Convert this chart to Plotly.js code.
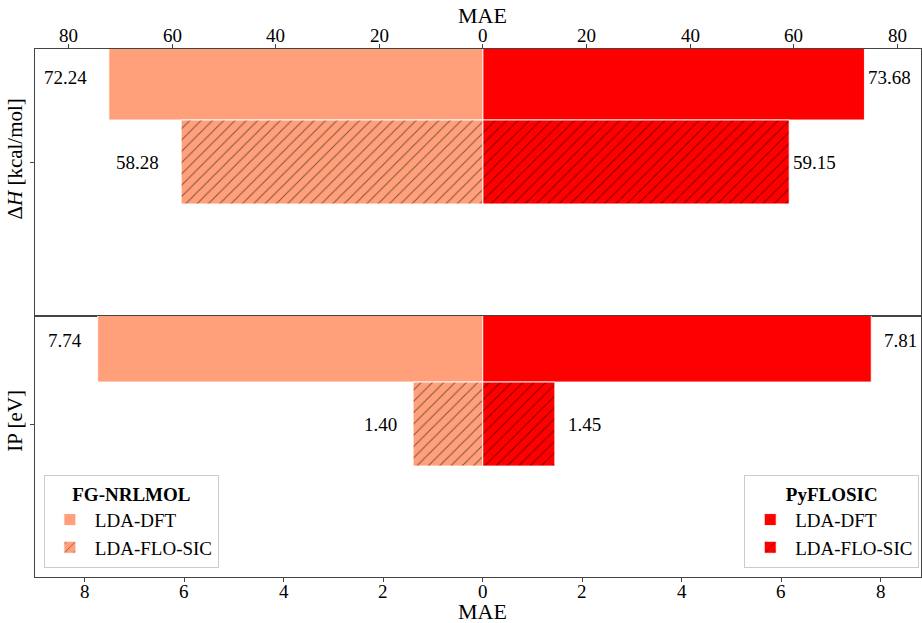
<!DOCTYPE html>
<html>
<head>
<meta charset="utf-8">
<script src="https://cdn.plot.ly/plotly-3.0.1.min.js"></script>
<style>html,body{margin:0;padding:0;background:#fff;}#chart{width:922px;height:623px;}</style>
</head>
<body>
<div id="chart"></div>
<script>
// ---- data ----
const quantities = ['ΔH', 'IP'];
const yTickLabels = ['Δ<i>H</i> [kcal/mol]', 'IP [eV]'];
const fgDFT = [72.24, 7.74];   // FG-NRLMOL LDA-DFT
const fgFLO = [58.28, 1.40];   // FG-NRLMOL LDA-FLO-SIC
const pyDFT = [73.68, 7.81];   // PyFLOSIC LDA-DFT
const pyFLO = [59.15, 1.45];   // PyFLOSIC LDA-FLO-SIC
const xTicksTop = [-80, -60, -40, -20, 0, 20, 40, 60, 80];
const xTicksBottom = [-8, -6, -4, -2, 0, 2, 4, 6, 8];
const methods = ['LDA-DFT', 'LDA-FLO-SIC'];
const codes = ['FG-NRLMOL', 'PyFLOSIC'];
const xTitle = 'MAE';

const colFG = '#FFA07A';
const colPy = '#FF0000';
const font = 'Liberation Serif, Times New Roman, serif';

const axes = [{x: 'x', y: 'y'}, {x: 'x2', y: 'y2'}];
const traces = [];
const annotations = [];
const labelShift = [[-20, 2], [-14, 11]];  // px gap [left, right] for each panel

quantities.forEach((q, i) => {
  const series = [
    {vals: fgDFT, sign: -1, pos: 1, color: colFG, hatch: false, code: 0, m: 0},
    {vals: fgFLO, sign: -1, pos: 0, color: colFG, hatch: true, code: 0, m: 1},
    {vals: pyDFT, sign: 1, pos: 1, color: colPy, hatch: false, code: 1, m: 0},
    {vals: pyFLO, sign: 1, pos: 0, color: colPy, hatch: true, code: 1, m: 1}
  ];
  series.forEach(s => {
    const marker = {color: s.color, line: {color: 'rgba(255,255,255,0.9)', width: 1}};
    if (s.hatch) {
      marker.pattern = {shape: '/', fgcolor: '#000', bgcolor: s.color, fillmode: 'overlay', size: 8, solidity: 0.12};
    }
    traces.push({
      type: 'bar', orientation: 'h',
      x: [s.sign * s.vals[i]], y: [s.pos], width: 1,
      xaxis: axes[i].x, yaxis: axes[i].y,
      marker: marker,
      name: methods[s.m],
      legend: s.code === 0 ? 'legend' : 'legend2',
      legendgroup: codes[s.code] + methods[s.m],
      showlegend: i === 0,
      hoverinfo: 'skip'
    });
    annotations.push({
      xref: axes[i].x, yref: axes[i].y,
      x: s.sign * s.vals[i], y: s.pos,
      text: s.vals[i].toFixed(2),
      showarrow: false,
      xanchor: s.sign < 0 ? 'right' : 'left',
      xshift: s.sign < 0 ? labelShift[i][0] : labelShift[i][1],
      font: {family: font, size: 19, color: '#000'}
    });
  });
});

// x tick labels (absolute values), placed on the axes' own scales
xTicksTop.forEach(v => annotations.push({
  xref: 'x', yref: 'paper', x: v, y: 1, yanchor: 'bottom', yshift: 2, borderpad: 0,
  text: String(Math.abs(v)), showarrow: false, font: {family: font, size: 19, color: '#000'}
}));
xTicksBottom.forEach(v => annotations.push({
  xref: 'x2', yref: 'paper', x: v, y: 0, yanchor: 'top', yshift: -3, borderpad: 0,
  text: String(Math.abs(v)), showarrow: false, font: {family: font, size: 19, color: '#000'}
}));

// axis titles (top and bottom)
annotations.push({xref: 'paper', yref: 'paper', x: 0.5052, y: 1.064, text: xTitle, showarrow: false, borderpad: 0,
  xanchor: 'center', yanchor: 'middle', font: {family: font, size: 22, color: '#000'}});
annotations.push({xref: 'paper', yref: 'paper', x: 0.5052, y: -0.0645, text: xTitle, showarrow: false, borderpad: 0,
  xanchor: 'center', yanchor: 'middle', font: {family: font, size: 22, color: '#000'}});

const axCommon = {
  showgrid: false, zeroline: false, showline: true, mirror: true,
  linecolor: '#444', linewidth: 1, ticks: 'outside', ticklen: 4, tickcolor: '#444',
  tickfont: {family: font, size: 19, color: '#000'}, automargin: false, fixedrange: true
};

const layout = {
  width: 922, height: 623,
  margin: {l: 35, r: 1, t: 49, b: 46},
  paper_bgcolor: '#fff', plot_bgcolor: '#fff',
  barmode: 'overlay', bargap: 0,
  font: {family: font, color: '#000'},
  xaxis: Object.assign({}, axCommon, {
    anchor: 'y', side: 'top', domain: [0, 1], range: [-86.5, 84.6],
    tickvals: xTicksTop, showticklabels: false
  }),
  yaxis: Object.assign({}, axCommon, {
    anchor: 'x', domain: [0.4943, 1], range: [-1.833, 1.345],
    tickvals: [0], ticktext: [yTickLabels[0]], tickangle: -90,
    tickfont: {family: font, size: 21, color: '#000'}
  }),
  xaxis2: Object.assign({}, axCommon, {
    anchor: 'y2', side: 'bottom', domain: [0, 1], range: [-9.0, 8.81],
    tickvals: xTicksBottom, showticklabels: false
  }),
  yaxis2: Object.assign({}, axCommon, {
    anchor: 'x2', domain: [0, 0.4943], range: [-1.82, 1.286],
    tickvals: [0], ticktext: [yTickLabels[1]], tickangle: -90,
    tickfont: {family: font, size: 21, color: '#000'}
  }),
  legend: {
    x: 0.01, y: 0.017, xanchor: 'left', yanchor: 'bottom',
    bgcolor: '#fff', bordercolor: '#ccc', borderwidth: 1,
    font: {family: font, size: 19, color: '#000'},
    title: {text: '<b>' + codes[0] + '</b>', side: 'top center', font: {family: font, size: 19, color: '#000'}},
    traceorder: 'normal', itemwidth: 40
  },
  legend2: {
    x: 0.998, y: 0.017, xanchor: 'right', yanchor: 'bottom',
    bgcolor: '#fff', bordercolor: '#ccc', borderwidth: 1,
    font: {family: font, size: 19, color: '#000'},
    title: {text: '<b>' + codes[1] + '</b>', side: 'top center', font: {family: font, size: 19, color: '#000'}},
    traceorder: 'normal', itemwidth: 40
  },
  annotations: annotations
};

Plotly.newPlot('chart', traces, layout, {displayModeBar: false, staticPlot: true});
</script>
</body>
</html>
